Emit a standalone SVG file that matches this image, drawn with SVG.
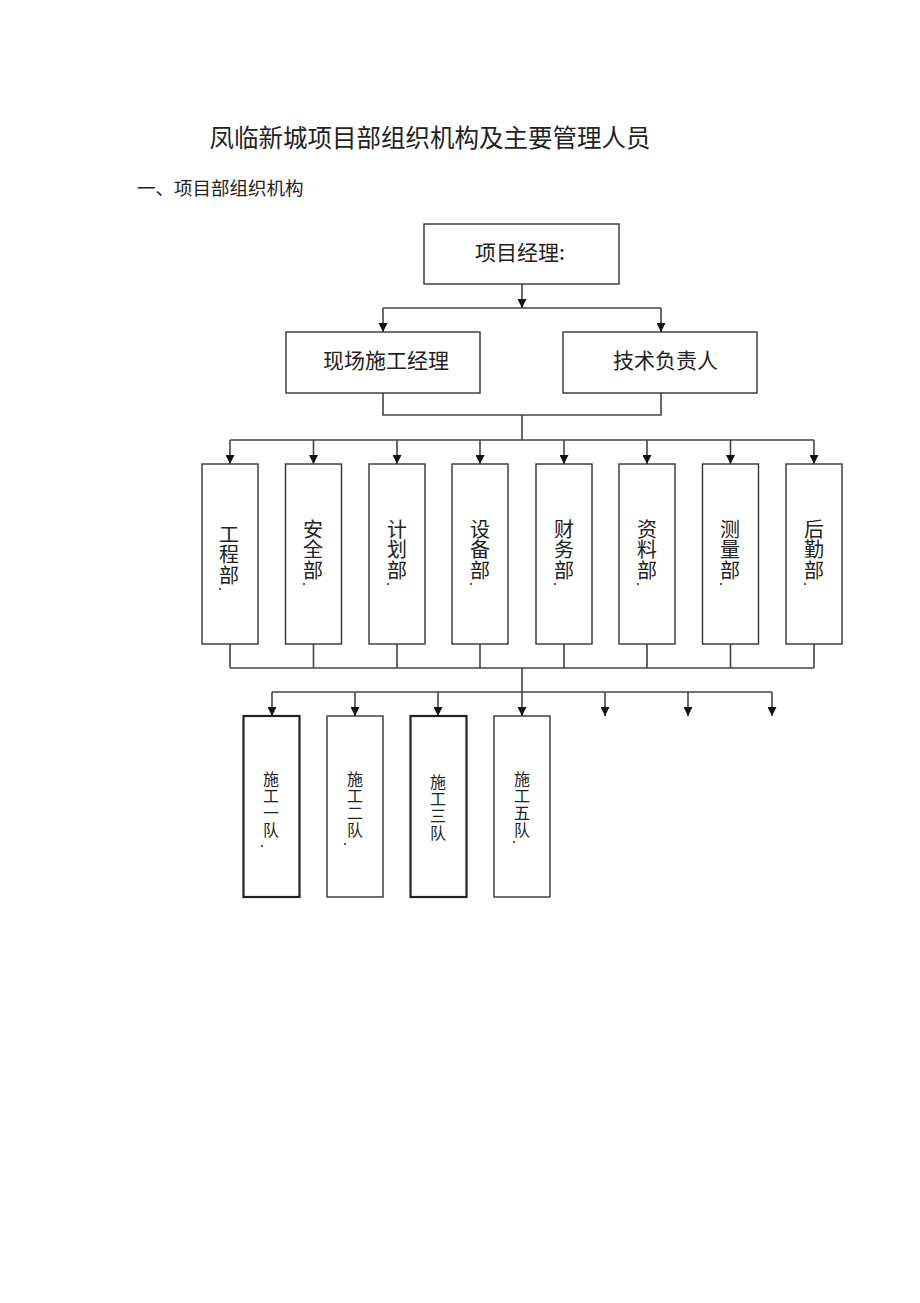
<svg xmlns="http://www.w3.org/2000/svg" width="920" height="1303" viewBox="0 0 920 1303">
<style>
text{font-family:"Noto Sans CJK SC","Noto Sans CJK TC",sans-serif;fill:#222}
.box{fill:#fff;stroke:#333;stroke-width:1.4}
.thick{stroke-width:2.2;stroke:#222}
.ln{fill:none;stroke:#444;stroke-width:1.6}
.arr{marker-end:url(#ah)}
.h2{font-size:21px}
.dep{font-size:20px;writing-mode:vertical-rl;letter-spacing:0.5px}
.team{font-size:16px;writing-mode:vertical-rl;letter-spacing:1px}
.dot{fill:#222}
</style>
<defs>
<marker id="ah" viewBox="0 0 10 10" refX="10" refY="5" markerWidth="10" markerHeight="9" markerUnits="userSpaceOnUse" orient="auto">
<path d="M0,0 L10,5 L0,10 z" fill="#111"/>
</marker>
</defs>
<rect width="920" height="1303" fill="#fff"/>
<text x="430" y="147" font-size="24.5" text-anchor="middle">凤临新城项目部组织机构及主要管理人员</text>
<text x="137" y="195" font-size="18.5">一、项目部组织机构</text>

<g id="connectors">
<path class="ln arr" d="M522,284 V308"/>
<path class="ln" d="M383,308 H661"/>
<path class="ln arr" d="M383,308 V332"/>
<path class="ln arr" d="M661,308 V332"/>
<path class="ln" d="M383,393 V415 H661 V393"/>
<path class="ln" d="M522,415 V440"/>
<path class="ln" d="M230,440 H814"/>
<path class="ln arr" d="M230,440 V464"/>
<path class="ln arr" d="M313.5,440 V464"/>
<path class="ln arr" d="M397,440 V464"/>
<path class="ln arr" d="M480,440 V464"/>
<path class="ln arr" d="M564,440 V464"/>
<path class="ln arr" d="M647,440 V464"/>
<path class="ln arr" d="M730.5,440 V464"/>
<path class="ln arr" d="M814,440 V464"/>
<path class="ln" d="M230,644 V668 M313.5,644 V668 M397,644 V668 M480,644 V668 M564,644 V668 M647,644 V668 M730.5,644 V668 M814,644 V668"/>
<path class="ln" d="M230,668 H814"/>
<path class="ln arr" d="M522,668 V716"/>
<path class="ln" d="M272,692 H772"/>
<path class="ln arr" d="M272,692 V716"/>
<path class="ln arr" d="M355,692 V716"/>
<path class="ln arr" d="M438,692 V716"/>
<path class="ln arr" d="M605,692 V716"/>
<path class="ln arr" d="M688,692 V716"/>
<path class="ln arr" d="M772,692 V716"/>
</g>

<g id="pm"><rect class="box" x="424" y="224" width="195" height="60"/><text class="h2" x="475" y="260">项目经理:</text></g>
<g id="site-mgr"><rect class="box" x="286" y="332" width="194" height="61"/><text class="h2" x="323" y="368">现场施工经理</text></g>
<g id="tech-lead"><rect class="box" x="563" y="332" width="194" height="61"/><text class="h2" x="613" y="368">技术负责人</text></g>

<g id="dept-eng"><rect class="box" x="202" y="464" width="56" height="180"/><text class="dep" x="229" y="524">工程部</text><circle class="dot" cx="220" cy="589" r="1"/></g>
<g id="dept-safety"><rect class="box" x="285.5" y="464" width="56" height="180"/><text class="dep" x="313" y="519">安全部</text><circle class="dot" cx="304" cy="584" r="1"/></g>
<g id="dept-plan"><rect class="box" x="369" y="464" width="56" height="180"/><text class="dep" x="397" y="519">计划部</text><circle class="dot" cx="388" cy="584" r="1"/></g>
<g id="dept-equip"><rect class="box" x="452" y="464" width="56" height="180"/><text class="dep" x="480" y="519">设备部</text><circle class="dot" cx="471" cy="584" r="1"/></g>
<g id="dept-fin"><rect class="box" x="536" y="464" width="56" height="180"/><text class="dep" x="564" y="519">财务部</text><circle class="dot" cx="555" cy="584" r="1"/></g>
<g id="dept-doc"><rect class="box" x="619" y="464" width="56" height="180"/><text class="dep" x="647" y="519">资料部</text><circle class="dot" cx="638" cy="584" r="1"/></g>
<g id="dept-survey"><rect class="box" x="702.5" y="464" width="56" height="180"/><text class="dep" x="730" y="519">测量部</text><circle class="dot" cx="721" cy="584" r="1"/></g>
<g id="dept-logi"><rect class="box" x="786" y="464" width="56" height="180"/><text class="dep" x="814" y="519">后勤部</text><circle class="dot" cx="805" cy="584" r="1"/></g>

<g id="team1"><rect class="box thick" x="243.5" y="716" width="56" height="181"/><text class="team" x="271" y="771">施工一队</text><circle class="dot" cx="262" cy="846" r="1"/></g>
<g id="team2"><rect class="box" x="327" y="716" width="56" height="181"/><text class="team" x="355" y="771">施工二队</text><circle class="dot" cx="345" cy="844" r="1"/></g>
<g id="team3"><rect class="box thick" x="410.5" y="716" width="56" height="181"/><text class="team" x="438" y="774">施工三队</text></g>
<g id="team5"><rect class="box" x="494" y="716" width="56" height="181"/><text class="team" x="522" y="771">施工五队</text><circle class="dot" cx="514" cy="842" r="1"/></g>
</svg>
